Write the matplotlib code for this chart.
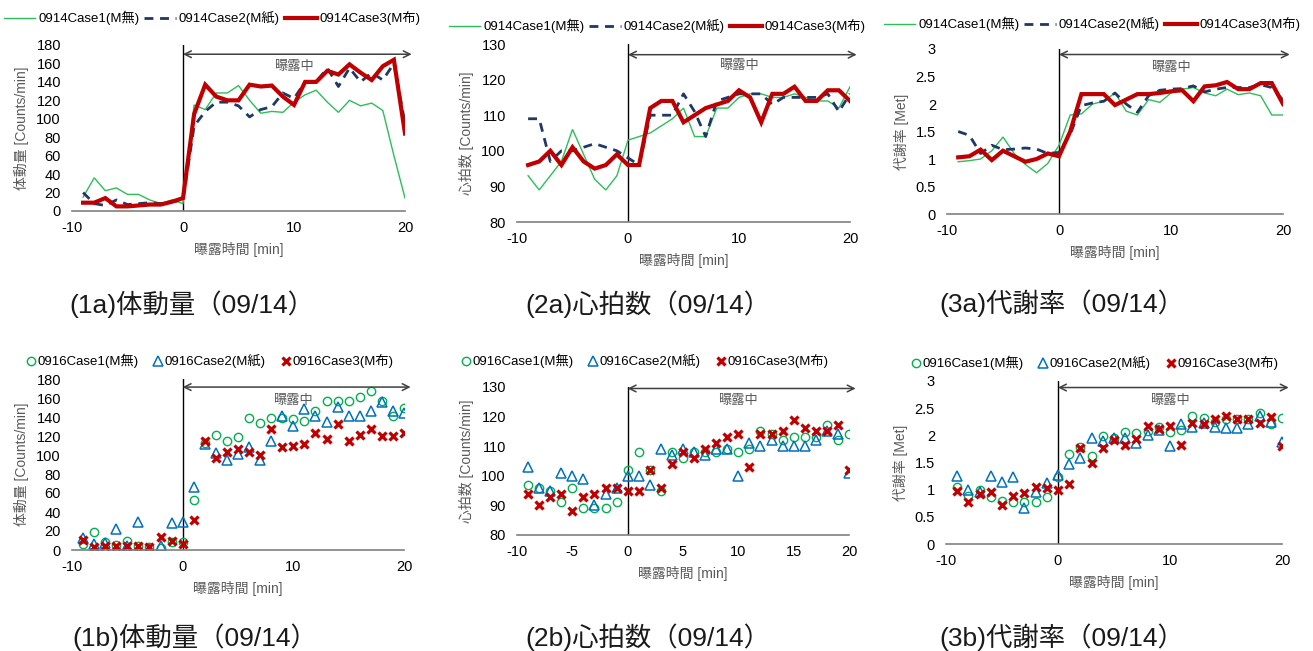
import numpy as np
import matplotlib
matplotlib.use("Agg")
import matplotlib.pyplot as plt

plt.rcParams['font.family'] = ['Liberation Sans', 'Noto Sans CJK JP', 'DejaVu Sans']
plt.rcParams['axes.unicode_minus'] = False

# time axis [min]
t = list(range(-9, 21))

# ---- 09/14 (lines) ----
act1_a = [15, 36, 22, 25, 18, 18, 12, 8, 12, 8, 115, 110, 128, 128, 136, 120, 106, 108, 107, 118,
          126, 131, 118, 107, 120, 114, 117, 109, 60, 14]
act2_a = [20, 8, 6, 12, 7, 8, 9, 8, 10, 12, 92, 108, 118, 118, 114, 102, 110, 113, 128, 122,
          140, 140, 155, 135, 155, 140, 150, 142, 160, 95]
act3_a = [9, 9, 14, 5, 5, 6, 7, 7, 10, 14, 105, 137, 124, 120, 120, 137, 135, 136, 124, 115,
          140, 140, 152, 148, 159, 150, 142, 157, 164, 84]

hr1_a = [93, 89, 93, 97, 106, 99, 92, 89, 93, 103, 104, 105, 107, 109, 112, 104, 104, 112, 112, 115,
         116, 116, 115, 115, 116, 115, 114, 114, 112, 118]
hr2_a = [109, 109, 97, 100, 100, 101, 102, 101, 100, 98, 96, 110, 110, 110, 116, 111, 104, 114, 115, 116,
         116, 116, 113, 115, 115, 115, 115, 116, 111, 116]
hr3_a = [96, 97, 100, 96, 101, 97, 95, 96, 99, 96, 96, 112, 114, 114, 108, 110, 112, 113, 114, 117,
         115, 108, 116, 116, 118, 114, 114, 117, 117, 114]

met1_a = [0.95, 0.97, 1.0, 1.15, 1.4, 1.1, 0.9, 0.75, 0.92, 1.25, 1.8, 1.82, 2.0, 2.05, 2.2, 1.87,
          1.8, 2.08, 2.03, 2.2, 2.27, 2.3, 2.2, 2.15, 2.27, 2.17, 2.2, 2.15, 1.8, 1.8]
met2_a = [1.5, 1.43, 1.1, 1.25, 1.17, 1.18, 1.2, 1.18, 1.1, 1.12, 1.45, 1.97, 2.02, 2.05, 2.2, 2.0,
          1.85, 2.15, 2.25, 2.27, 2.28, 2.33, 2.22, 2.27, 2.3, 2.3, 2.3, 2.35, 2.3, 2.07]
met3_a = [1.03, 1.05, 1.17, 0.98, 1.15, 1.05, 0.95, 1.0, 1.1, 1.05, 1.5, 2.18, 2.18, 2.18, 1.98, 2.08,
          2.18, 2.18, 2.2, 2.23, 2.25, 2.05, 2.32, 2.34, 2.4, 2.27, 2.27, 2.38, 2.38, 2.0]

# ---- 09/16 (scatter) ----
act1_b = [6, 19, 8, 5, 9, 4, 3, 2, 8, 8, 53, 113, 121, 115, 119, 139, 134, 139, 139, 138,
          136, 146, 157, 157, 157, 161, 167, 157, 141, 149]
act2_b = [13, 6, 7, 22, 4, 29, 1, 4, 28, 29, 66, 112, 102, 95, 101, 108, 95, 115, 141, 131,
          148, 141, 135, 151, 141, 141, 146, 156, 146, 144]
act3_b = [11, 3, 4, 4, 4, 4, 3, 14, 9, 6, 32, 115, 97, 103, 106, 103, 100, 127, 108, 110,
          112, 123, 117, 133, 115, 121, 127, 120, 120, 123]

hr1_b = [97, 96, 95, 91, 96, 89, 89, 89, 91, 102, 108, 102, 95, 108, 106, 108, 108, 108, 109, 108,
         109, 115, 114, 112, 113, 113, 113, 117, 112, 114]
hr2_b = [103, 96, 95, 101, 100, 99, 90, 94, 96, 100, 100, 97, 109, 107, 109, 108, 107, 109, 109, 100,
         111, 110, 112, 110, 110, 110, 112, 115, 114, 101]
hr3_b = [94, 90, 93, 94, 88, 93, 94, 96, 96, 95, 95, 102, 96, 104, 108, 106, 109, 111, 113, 114,
         103, 114, 114, 115, 119, 116, 115, 115, 117, 102]

met1_b = [1.05, 0.88, 1.0, 0.87, 0.8, 0.78, 0.78, 0.78, 0.87, 1.23, 1.65, 1.78, 1.62, 1.98, 1.95, 2.07,
          2.05, 2.08, 2.15, 2.07, 2.1, 2.35, 2.32, 2.25, 2.3, 2.3, 2.3, 2.42, 2.2, 2.32]
met2_b = [1.25, 1.0, 0.95, 1.25, 1.15, 1.23, 0.67, 0.95, 1.12, 1.27, 1.47, 1.58, 1.95, 1.9, 1.95, 1.95,
          1.85, 2.0, 2.1, 1.8, 2.2, 2.15, 2.22, 2.15, 2.13, 2.13, 2.2, 2.35, 2.25, 1.87]
met3_b = [0.98, 0.78, 0.92, 0.95, 0.72, 0.88, 0.93, 1.05, 1.03, 1.0, 1.1, 1.77, 1.5, 1.77, 1.92, 1.83,
          1.93, 2.17, 2.12, 2.17, 1.83, 2.22, 2.2, 2.3, 2.35, 2.3, 2.3, 2.23, 2.33, 1.8]

labels_a = ['0914Case1(M無)', '0914Case2(M紙)', '0914Case3(M布)']
labels_b = ['0916Case1(M無)', '0916Case2(M紙)', '0916Case3(M布)']
ylabels = ['体動量 [Counts/min]', '心拍数 [Counts/min]', '代謝率 [Met]']
captions_a = ['(1a)体動量（09/14）', '(2a)心拍数（09/14）', '(3a)代謝率（09/14）']
captions_b = ['(1b)体動量（09/14）', '(2b)心拍数（09/14）', '(3b)代謝率（09/14）']

W, H = 1313, 651
fig = plt.figure(figsize=(W / 100, H / 100), dpi=100)

GRAY = '#595959'


def px_axes(x0, x1, ytop, ybot):
    return fig.add_axes([x0 / W, 1 - ybot / H, (x1 - x0) / W, (ybot - ytop) / H])


def style_axes(ax, ylim, yticks, xticks, ylabel, arrow_y, text_y):
    ax.set_xlim(-10, 20)
    ax.set_ylim(*ylim)
    ax.set_yticks(yticks)
    ax.set_xticks(xticks)
    ax.set_yticklabels([('%g' % v) for v in yticks])
    for s in ['top', 'right', 'left']:
        ax.spines[s].set_visible(False)
    ax.spines['bottom'].set_color('#808080')
    ax.spines['bottom'].set_linewidth(1.2)
    ax.tick_params(length=0, labelsize=10.5, colors='black', pad=8)
    ax.tick_params(axis='x', pad=7)
    ax.set_xlabel('曝露時間 [min]', fontsize=10, color=GRAY, labelpad=5)
    ax.set_ylabel(ylabel, fontsize=10, color=GRAY, labelpad=5)
    ax.axvline(0, color='black', lw=1, zorder=1)
    ax.annotate('', xy=(20.6, arrow_y), xytext=(0, arrow_y),
                arrowprops=dict(arrowstyle='<->', color='#404040', lw=1.1,
                                shrinkA=0, shrinkB=0, mutation_scale=12),
                annotation_clip=False)
    ax.text(10, text_y, '曝露中', ha='center', va='center', fontsize=9.5, color=GRAY)


line_styles = [dict(color='#2DBE5A', lw=1.0),
               dict(color='#1F3864', lw=2.0, dashes=(3.2, 2.4)),
               dict(color='#C00000', lw=3.0)]
marker_styles = [dict(marker='o', mfc='none', mec='#00B050', mew=1.0, ms=6),
                 dict(marker='^', mfc='none', mec='#0070C0', mew=1.1, ms=7),
                 dict(marker='x', color='#C00000', mew=2.3, ms=5.5)]

# axes boxes in pixels (x at -10, x at 20, top, bottom)
top_boxes = [(72, 405, 45, 211), (517, 850, 44, 222), (947, 1283, 49, 214)]
bot_boxes = [(72, 404, 379, 550), (517, 849, 387, 535), (946, 1282, 381, 544)]

top_data = [(act1_a, act2_a, act3_a), (hr1_a, hr2_a, hr3_a), (met1_a, met2_a, met3_a)]
bot_data = [(act1_b, act2_b, act3_b), (hr1_b, hr2_b, hr3_b), (met1_b, met2_b, met3_b)]

ylims = [(0, 180), (80, 130), (0, 3)]
yticks = [list(range(0, 181, 20)), list(range(80, 131, 10)), [0, 0.5, 1, 1.5, 2, 2.5, 3]]
arrow_top = [170, 127, 2.9]
text_top = [156, 123.7, 2.66]
arrow_bot = [171.5, 129.5, 2.88]
text_bot = [157, 125.4, 2.63]

top_leg = [(212, 18), (657, 26), (1092, 24)]
bot_leg = [(210, 361), (645, 361), (1095, 363)]
cap_top = [(192, 304), (648, 304), (1062, 303)]
cap_bot = [(195, 637), (648, 637), (1062, 637)]

for i in range(3):
    ax = px_axes(*top_boxes[i])
    handles = []
    for series, st, lab in zip(top_data[i], line_styles, labels_a):
        h, = ax.plot(t, series, label=lab, solid_joinstyle='miter', **st)
        handles.append(h)
    style_axes(ax, ylims[i], yticks[i], [-10, 0, 10, 20], ylabels[i], arrow_top[i], text_top[i])
    fig.legend(handles=handles, loc='center', ncol=3, frameon=False, fontsize=9.5,
               handlelength=2.4, handletextpad=0.2, columnspacing=0.4,
               bbox_to_anchor=(top_leg[i][0] / W, 1 - top_leg[i][1] / H))
    fig.text(cap_top[i][0] / W, 1 - cap_top[i][1] / H, captions_a[i], ha='center', va='center',
             fontsize=19, color='#1a1a1a')

    ax = px_axes(*bot_boxes[i])
    handles = []
    for series, st, lab in zip(bot_data[i], marker_styles, labels_b):
        h, = ax.plot(t, series, linestyle='none', label=lab, **st)
        handles.append(h)
    xt = [-10, -5, 0, 5, 10, 15, 20] if i == 1 else [-10, 0, 10, 20]
    style_axes(ax, ylims[i], yticks[i], xt, ylabels[i], arrow_bot[i], text_bot[i])
    fig.legend(handles=handles, loc='center', ncol=3, frameon=False, fontsize=9.5,
               handlelength=0.6, handletextpad=0.2, columnspacing=1.2,
               bbox_to_anchor=(bot_leg[i][0] / W, 1 - bot_leg[i][1] / H))
    fig.text(cap_bot[i][0] / W, 1 - cap_bot[i][1] / H, captions_b[i], ha='center', va='center',
             fontsize=19, color='#1a1a1a')

fig.savefig('out.png', dpi=100)
